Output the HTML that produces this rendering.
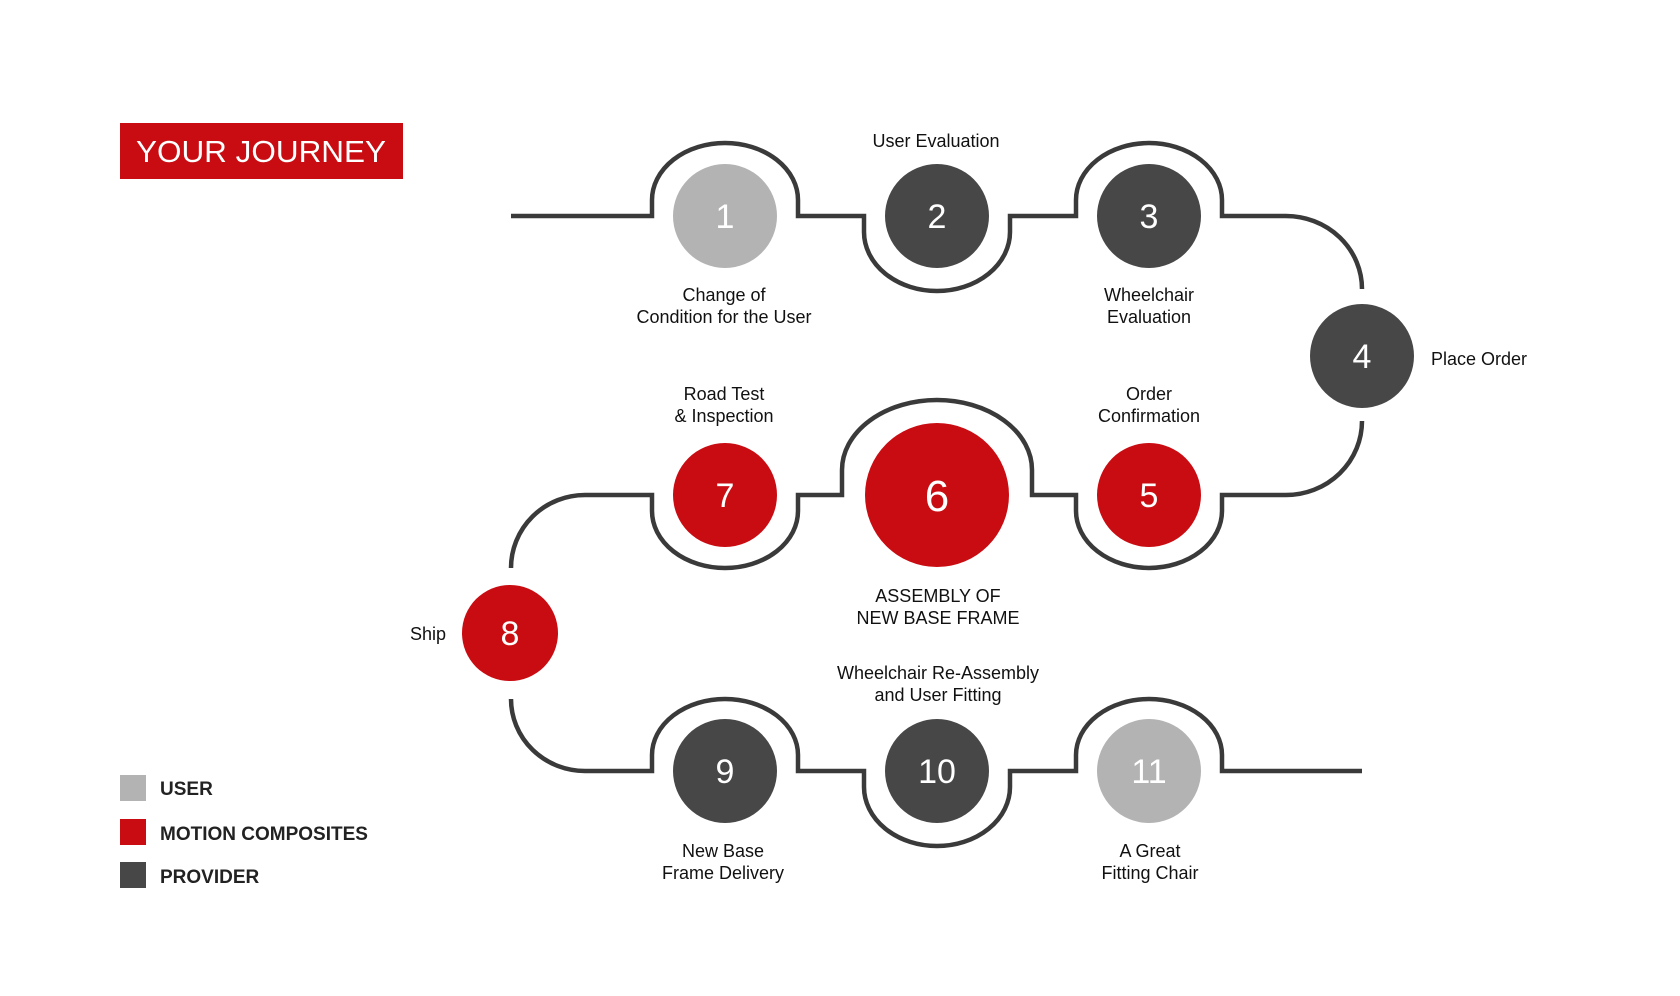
<!DOCTYPE html>
<html><head><meta charset="utf-8"><style>
html,body{margin:0;padding:0;background:#fff;}
svg{display:block;}
text{font-family:"Liberation Sans",sans-serif;}
</style></head><body>
<svg width="1680" height="996" viewBox="0 0 1680 996" xmlns="http://www.w3.org/2000/svg">
<rect width="1680" height="996" fill="#fff"/>
<!-- title -->
<rect x="120" y="123" width="283" height="56" fill="#c90c12"/>
<text x="136" y="162" font-size="31" fill="#fff" textLength="250" lengthAdjust="spacingAndGlyphs">YOUR JOURNEY</text>
<!-- legend -->
<rect x="120" y="775" width="26" height="26" fill="#b3b3b3"/>
<rect x="120" y="819" width="26" height="26" fill="#c90c12"/>
<rect x="120" y="862" width="26" height="26" fill="#474747"/>
<g font-size="19" font-weight="bold" fill="#222">
<text x="160" y="795">USER</text>
<text x="160" y="840">MOTION COMPOSITES</text>
<text x="160" y="883">PROVIDER</text>
</g>
<!-- path -->
<g fill="none" stroke="#3a3a3a" stroke-width="4.5">
<path d="M511 216 H652 V200 A73 57 0 0 1 798 200 V216 H864 V232 A73 59 0 0 0 1010 232 V216 H1076 V200 A73 57 0 0 1 1222 200 V216 H1286 A76 73 0 0 1 1362 289"/>
<path d="M1362 421 A76 74 0 0 1 1286 495 H1222 V511 A73 57 0 0 1 1076 511 V495 H1032 V470 A95 70 0 0 0 842 470 V495 H798 V511 A73 57 0 0 1 652 511 V495 H585 A74 73 0 0 0 511 568"/>
<path d="M511 699 A74 72 0 0 0 585 771 H652 V755 A73 56 0 0 1 798 755 V771 H864 V787 A73 59 0 0 0 1010 787 V771 H1076 V755 A73 56 0 0 1 1222 755 V771 H1362"/>
</g>
<!-- circles -->
<circle cx="725" cy="216" r="52" fill="#b3b3b3"/>
<circle cx="937" cy="216" r="52" fill="#474747"/>
<circle cx="1149" cy="216" r="52" fill="#474747"/>
<circle cx="1362" cy="356" r="52" fill="#474747"/>
<circle cx="1149" cy="495" r="52" fill="#c90c12"/>
<circle cx="937" cy="495" r="72" fill="#c90c12"/>
<circle cx="725" cy="495" r="52" fill="#c90c12"/>
<circle cx="510" cy="633" r="48" fill="#c90c12"/>
<circle cx="725" cy="771" r="52" fill="#474747"/>
<circle cx="937" cy="771" r="52" fill="#474747"/>
<circle cx="1149" cy="771" r="52" fill="#b3b3b3"/>
<g fill="#fff" font-size="34" text-anchor="middle">
<text x="725" y="228">1</text>
<text x="937" y="228">2</text>
<text x="1149" y="228">3</text>
<text x="1362" y="368">4</text>
<text x="1149" y="507">5</text>
<text x="937" y="511" font-size="44">6</text>
<text x="725" y="507">7</text>
<text x="510" y="645">8</text>
<text x="725" y="783">9</text>
<text x="937" y="783">10</text>
<text x="1149" y="783">11</text>
</g>
<!-- labels -->
<g font-size="18" fill="#111" text-anchor="middle">
<text x="936" y="147">User Evaluation</text>
<text x="724" y="301">Change of</text>
<text x="724" y="323">Condition for the User</text>
<text x="1149" y="301">Wheelchair</text>
<text x="1149" y="323">Evaluation</text>
<text x="1431" y="365" text-anchor="start">Place Order</text>
<text x="724" y="400">Road Test</text>
<text x="724" y="422">&amp; Inspection</text>
<text x="1149" y="400">Order</text>
<text x="1149" y="422">Confirmation</text>
<text x="938" y="602">ASSEMBLY OF</text>
<text x="938" y="624">NEW BASE FRAME</text>
<text x="446" y="640" text-anchor="end">Ship</text>
<text x="938" y="679">Wheelchair Re-Assembly</text>
<text x="938" y="701">and User Fitting</text>
<text x="723" y="857">New Base</text>
<text x="723" y="879">Frame Delivery</text>
<text x="1150" y="857">A Great</text>
<text x="1150" y="879">Fitting Chair</text>
</g>
</svg>
</body></html>
